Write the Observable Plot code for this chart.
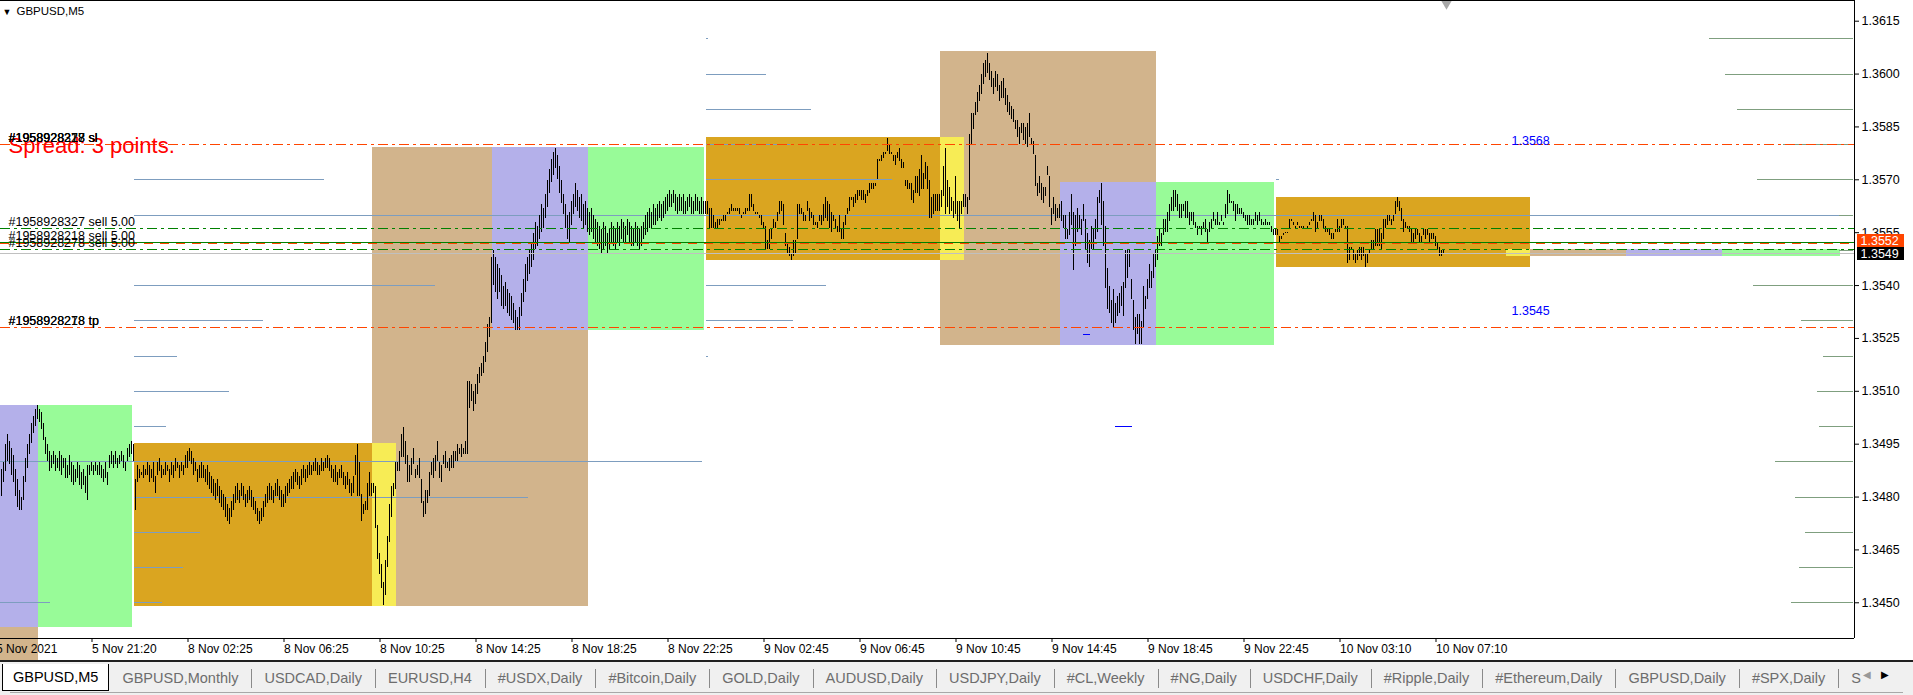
<!DOCTYPE html>
<html><head><meta charset="utf-8">
<script src="https://cdn.jsdelivr.net/npm/d3@7"></script>
<script src="https://cdn.jsdelivr.net/npm/@observablehq/plot@0.6"></script>
<style>
html,body{margin:0;padding:0;background:#fff;}
body{width:1913px;height:695px;overflow:hidden;position:relative;font-family:"Liberation Sans",Arial,sans-serif;}
#chart{position:absolute;left:0;top:0;}
#chart svg{display:block;}
#tabs{position:absolute;left:0;top:660px;width:1913px;height:35px;background:#f0f0f0;border-top:2px solid #202020;box-sizing:border-box;}
#tabrow{position:absolute;left:2px;top:2px;height:27px;display:flex;align-items:stretch;font-size:14.5px;color:#6d6d6d;}
.tab{padding:0 13px;white-space:nowrap;display:flex;align-items:center;position:relative;}
.tab.sep::before{content:"";position:absolute;left:0;top:5px;bottom:3px;border-left:1px solid #8a8a8a;}
.tab.active{background:#fff;color:#000;border:1px solid #000;border-top:none;padding:0 10px;}
#tabline{position:absolute;left:10px;right:10px;bottom:2px;border-top:1px solid #a8a8a8;}
#arrows{position:absolute;right:14px;top:7px;font-size:10px;color:#000;letter-spacing:10px;}
</style></head>
<body>
<div id="chart"></div>
<div id="tabs"><div id="tabrow"></div><div id="arrows"><span style="color:#999">&#9664;</span>&#9654;</div><div id="tabline"></div></div>
<script>
// ---------- data ----------
const priceBase = 1.34, pip = 0.0001;
const barHigh = [
88,90,95,98,96,94,92,88,85,82,80,86,91,95,98,101,103,105,106,105,
104,101,97,95,93,92,93,92,91,93,92,91,91,89,92,90,89,88,90,89,
87,88,86,89,89,90,89,90,89,90,89,88,90,87,92,93,92,93,91,92,
93,92,90,94,95,96,95,85,89,88,87,89,88,90,89,88,90,86,90,91,
89,88,90,89,88,90,89,91,90,89,90,89,92,93,94,93,91,90,88,89,
90,89,88,89,87,86,85,84,85,83,82,81,80,78,77,79,81,83,84,82,
84,83,81,82,83,82,80,79,77,76,77,79,81,83,84,83,82,84,85,83,
82,81,83,84,85,86,87,88,87,86,88,89,88,89,90,89,90,91,90,89,
91,90,91,92,91,89,88,89,87,88,89,87,86,87,85,84,86,92,95,90,
81,78,79,84,87,84,84,83,72,64,61,56,62,69,78,83,84,90,90,93,
98,100,96,92,89,91,94,88,89,91,85,79,82,82,87,90,91,92,96,90,
89,92,93,90,91,92,93,93,95,94,95,94,96,113,113,112,110,112,115,117,
118,120,124,129,131,148,150,148,146,145,143,140,141,139,138,137,135,133,131,134,
138,142,146,148,150,152,155,158,157,160,163,162,166,170,173,176,178,179,177,174,
170,166,163,160,161,164,166,169,167,165,166,163,164,162,161,162,160,159,158,157,
156,158,157,155,156,158,157,156,158,157,159,158,157,159,158,157,156,158,157,156,
157,158,160,161,162,161,163,162,163,164,163,164,165,166,167,166,167,166,165,166,
165,166,164,165,166,165,164,166,165,164,165,164,164,164,162,162,160,158,159,159,
159,160,160,161,162,163,162,162,162,162,160,161,162,162,166,166,163,161,161,160,
160,158,157,153,156,156,159,158,161,164,164,163,155,152,151,149,153,153,163,163,
162,161,160,164,162,161,160,158,158,160,160,163,165,164,163,161,160,159,157,160,
156,158,160,162,165,165,165,166,167,167,167,167,166,167,169,169,169,169,176,176,
177,178,178,182,180,178,177,177,178,179,176,175,170,170,169,169,167,171,171,173,
177,172,175,174,170,165,166,166,166,166,167,174,179,170,168,165,164,171,164,164,
164,166,166,165,183,189,189,192,195,197,200,203,204,206,203,201,199,201,200,197,
198,199,196,194,192,191,190,187,187,185,186,186,185,186,189,182,181,177,169,171,
169,168,168,174,171,162,165,163,162,163,164,160,160,156,161,166,161,160,162,160,
159,163,159,155,153,157,156,159,165,167,169,164,157,145,140,136,139,135,137,138,
140,141,150,150,150,142,136,131,132,132,130,140,137,142,146,144,149,150,154,156,
155,159,159,161,163,165,167,167,166,163,163,163,164,164,161,161,161,158,157,157,
157,158,159,156,158,159,161,159,161,158,160,158,163,167,166,164,164,163,163,162,
162,161,160,160,160,159,159,161,160,161,159,158,159,158,158,157,156,156,156,154,
154,155,155,155,159,159,158,157,158,157,157,157,156,157,158,159,161,160,158,160,
160,159,157,156,156,155,155,156,159,157,159,159,157,157,151,151,150,149,150,151,
151,151,149,149,150,153,153,156,156,156,155,159,159,160,160,159,160,164,165,164,
162,159,158,157,157,156,155,156,156,155,154,156,156,156,155,155,155,154,152,151,
150,150];
const barLow = [
80,84,87,90,89,86,84,80,77,76,76,79,84,88,92,95,98,100,102,101,
99,96,92,90,87,88,89,87,88,87,86,88,85,85,86,84,83,84,85,83,
82,83,81,79,86,87,86,87,86,86,85,84,85,83,88,89,88,89,88,89,
90,88,87,90,91,92,90,76,84,85,86,85,86,86,84,85,84,81,86,87,
85,86,86,87,84,86,85,87,88,85,87,86,88,88,90,89,86,87,84,85,
85,85,84,83,82,81,80,79,80,78,77,76,74,73,72,74,76,78,79,78,
80,79,77,78,79,77,76,75,73,72,73,74,77,78,79,79,78,80,80,79,
77,77,78,80,81,82,82,84,83,82,83,85,84,85,86,86,87,87,86,86,
87,87,88,88,87,85,84,84,83,85,85,83,82,83,81,80,81,86,80,80,
73,75,76,76,80,80,81,71,62,58,54,49,52,60,67,74,80,82,87,87,
91,91,89,84,84,86,89,85,86,85,78,74,75,78,80,86,85,87,90,85,
84,89,88,88,87,88,88,90,90,92,91,92,92,92,105,107,104,106,109,112,
114,115,118,121,125,129,140,138,136,138,134,133,134,132,131,130,129,127,127,127,
131,135,138,141,143,145,147,150,151,153,155,156,159,162,166,169,171,173,170,166,
163,160,156,153,152,157,160,162,161,159,158,156,157,155,154,155,153,152,151,150,
149,150,151,149,150,152,151,150,152,151,153,152,152,154,152,151,151,152,151,150,
151,153,154,155,156,156,157,157,158,159,158,159,160,161,162,162,163,161,160,161,
161,160,160,161,162,160,160,161,161,160,160,160,160,160,156,156,156,156,156,157,
158,158,158,160,160,161,161,161,161,160,159,160,160,161,161,162,161,160,160,159,
157,156,150,150,150,153,156,156,158,160,161,157,151,149,148,147,148,149,153,160,
160,158,158,161,158,159,157,157,156,158,157,158,159,158,156,155,158,156,155,155,
153,153,157,160,161,164,162,163,164,165,164,164,163,165,166,167,167,168,170,175,
175,176,177,178,177,177,175,174,176,175,173,173,168,167,167,164,163,166,166,165,
167,167,170,167,159,159,160,161,161,161,162,165,160,162,160,161,159,160,158,156,
160,162,162,160,164,180,184,188,189,192,194,197,199,200,198,196,194,196,195,192,
193,193,191,189,188,187,186,184,182,180,183,181,180,179,182,180,177,168,165,166,
164,163,165,171,162,157,160,158,159,159,158,156,153,153,154,157,144,151,155,156,
154,158,150,146,145,150,150,153,155,163,157,151,139,133,132,129,128,129,131,132,
134,131,139,142,145,136,127,123,126,123,123,128,133,136,139,139,142,145,147,151,
151,154,155,155,158,161,161,162,161,159,159,161,159,159,157,158,157,156,154,156,
154,156,155,152,155,156,158,157,157,157,158,157,159,160,163,163,161,158,160,160,
160,159,158,157,157,157,157,158,157,158,157,157,157,157,157,155,154,154,154,152,
153,154,155,155,156,158,157,156,157,156,156,156,156,156,157,158,158,155,156,158,
158,156,155,155,154,153,153,155,155,155,156,157,156,146,147,150,147,146,147,148,
147,148,145,146,149,150,150,151,151,151,150,153,156,157,158,157,158,160,162,161,
158,155,156,156,155,152,152,153,154,152,152,154,153,154,152,153,153,151,150,148,
148,149];

// session boxes (bar index range, price range)
const sessionNames  = ["London", "Asia", "London open", "London–NY", "New York"];
const boxSession = ["London","London","London","London","Asia","Asia","Asia","London open","London open","London open","London–NY","London–NY","London–NY","London–NY","New York","New York","New York","New York"];
const boxFrom    = [0,   186, 470, 765, 67,  353, 638, 186, 470, 753, 0,   246, 530, 813, 19,  294, 578, 861];
const boxTo      = [18,  293, 577, 812, 185, 469, 764, 197, 481, 764, 18,  293, 577, 860, 65,  351, 636, 919];
const boxHigh    = [1.3443,1.35792,1.36064,1.35502,1.34953,1.3582,1.3565,1.34953,1.3582,1.35502,1.3506,1.35792,1.35692,1.35502,1.3506,1.35792,1.35692,1.35502];
const boxLow     = [1.3420,1.3449,1.3523,1.35482,1.3449,1.35471,1.35451,1.3449,1.35471,1.35482,1.3443,1.35273,1.3523,1.35482,1.3443,1.35273,1.3523,1.35482];

// short horizontal level segments (steel blue)
const segPrice = [1.3570,1.3560,1.3540,1.3530,1.3520,1.3510,1.3500,1.3490,1.3480,1.3470,1.3460,1.3450,1.3450,
                  1.3610,1.3600,1.3590,1.3580,1.3570,1.3540,1.3530,1.3520,1.3570];
const segFrom  = [66.5,66.5,66.5,66.5,66.5,66.5,66.5,-0.5,66.5,66.5,66.5,-0.5,66.5,
                  352.5,352.5,352.5,352.5,352.5,352.5,352.5,352.5,637.5];
const segTo    = [161.5,919.5,217,131,88,114,82.5,350.5,263.5,99.5,91,24.5,80.5,
                  353.5,382.5,405,394.5,445.5,412.5,396,353.5,639];
// blue marks
const markPrice = [1.3526, 1.3500];
const markFrom  = [541, 557];
const markTo    = [544.5, 565.5];

// right-side level profile (length in bars, measured back from the price axis)
const profilePrice = [1.3610,1.3600,1.3590,1.3580,1.3570,1.3560,1.3550,1.3540,1.3530,1.3520,1.3510,1.3500,1.3490,1.3480,1.3470,1.3460,1.3450,1.3440];
const profileLen   = [72,64,58,35,48,7,7,50,26,15,18,17,39,29,24,27,31,28];

// orders
const orderIds   = ["#1958928327","#1958928218","#1958928278"];
const orderOpen  = [1.35561, 1.35521, 1.35502];
const slPrice = 1.3580, tpPrice = 1.3528;
const slIds = ["#1958928218","#1958928278","#1958928327"];
const tpIds = ["#1958928218","#1958928278"];
const bidPrice = 1.3549, askPrice = 1.3552;
const spreadText = "Spread: 3 points.";
const blueLabelText  = ["1.3568","1.3545"];
const blueLabelPrice = [1.3581, 1.35329];
const blueLabelBar   = [755, 755];

// axes
const yTickValues = [1.3450,1.3465,1.3480,1.3495,1.3510,1.3525,1.3540,1.3555,1.3570,1.3585,1.3600,1.3615];
const timeTickBar = [-2,46,94,142,190,238,286,334,382,430,478,526,574,622,670,718];
const timeTickLabel = ["5 Nov 2021","5 Nov 21:20","8 Nov 02:25","8 Nov 06:25","8 Nov 10:25","8 Nov 14:25","8 Nov 18:25","8 Nov 22:25","9 Nov 02:45","9 Nov 06:45","9 Nov 10:45","9 Nov 14:45","9 Nov 18:45","9 Nov 22:45","10 Nov 03:10","10 Nov 07:10"];
const tabNames = ["GBPUSD,M5","GBPUSD,Monthly","USDCAD,Daily","EURUSD,H4","#USDX,Daily","#Bitcoin,Daily","GOLD,Daily","AUDUSD,Daily","USDJPY,Daily","#CL,Weekly","#NG,Daily","USDCHF,Daily","#Ripple,Daily","#Ethereum,Daily","GBPUSD,Daily","#SPX,Daily","S"];
const symbolTitle = "GBPUSD,M5";

// ---------- build ----------
const bars = barHigh.map((h, i) => ({i, high: priceBase + h * pip, low: priceBase + barLow[i] * pip}));
const boxes = boxSession.map((s, k) => ({session: s, from: boxFrom[k], to: boxTo[k], high: boxHigh[k], low: boxLow[k]}));
const segs = segPrice.map((p, k) => ({p, from: segFrom[k], to: segTo[k]}));
const marksBlue = markPrice.map((p, k) => ({p, from: markFrom[k], to: markTo[k]}));
const xMin = -0.5, xMax = 926.5;
const profile = profilePrice.map((p, k) => ({p, from: xMax - 0.5 - profileLen[k], to: xMax - 0.5}));
const tickLabelOf = new Map(timeTickBar.map((b, k) => [b, timeTickLabel[k]]));
const yTop = 1.362087, yBottom = 1.343987;
const lastBar = bars.length - 1;
const tagH = 0.000175;

const red = "#ff4500", green = "#008000", steel = "#7d9dbf", profileColor = "#7f9f7f";
const dashDot = "10,4,3,4";

const chart = Plot.plot({
  width: 1913, height: 660,
  marginLeft: 0, marginRight: 59, marginTop: 0, marginBottom: 22,
  x: {domain: [xMin, xMax], label: null},
  y: {domain: [yBottom, yTop], label: null},
  color: {domain: sessionNames, range: ["#d2b48c", "#daa520", "#f7ec55", "#b4b0ea", "#98fb98"]},
  style: {fontFamily: "Liberation Sans, Arial, sans-serif", fontSize: "12px", background: "#fff", color: "#000"},
  marks: [
    Plot.rect(boxes, {x1: d => d.from - 0.5, x2: d => d.to + 0.5, y1: "low", y2: "high", fill: "session", shapeRendering: "crispEdges"}),
    Plot.ruleY(segs, {y: "p", x1: "from", x2: "to", stroke: steel, strokeWidth: 1, shapeRendering: "crispEdges"}),
    Plot.ruleY(profile, {y: "p", x1: "from", x2: "to", stroke: profileColor, strokeWidth: 1, shapeRendering: "crispEdges"}),
    Plot.ruleY(marksBlue, {y: "p", x1: "from", x2: "to", stroke: "#0000ff", strokeWidth: 1, shapeRendering: "crispEdges"}),
    Plot.ruleX(bars, {x: "i", y1: "low", y2: "high", stroke: "#000", strokeWidth: 1, insetTop: -0.5, insetBottom: -0.5, shapeRendering: "crispEdges"}),
    Plot.ruleY([bidPrice], {stroke: "#c0c0c0", strokeWidth: 1, shapeRendering: "crispEdges"}),
    Plot.ruleY([orderOpen[0], orderOpen[2]], {stroke: green, strokeDasharray: dashDot, shapeRendering: "crispEdges"}),
    Plot.ruleY([orderOpen[1]], {stroke: green, shapeRendering: "crispEdges"}),
    Plot.ruleY([askPrice], {stroke: red, strokeDasharray: "9,7", shapeRendering: "crispEdges"}),
    Plot.ruleY([slPrice, tpPrice], {stroke: red, strokeDasharray: dashDot, shapeRendering: "crispEdges"}),
    // texts
    Plot.text([spreadText], {frameAnchor: "left", y: () => slPrice, dx: 8, dy: 1, fill: "#ff0000", fontSize: 22, textAnchor: "start"}),
    Plot.text(slIds, {frameAnchor: "left", y: () => slPrice, dx: 8, dy: -7, text: d => d + " sl", fontSize: 12.5, textAnchor: "start", fill: "#000"}),
    Plot.text(tpIds, {frameAnchor: "left", y: () => tpPrice, dx: 8, dy: -7, text: d => d + " tp", fontSize: 12.5, textAnchor: "start", fill: "#000"}),
    Plot.text(orderIds, {frameAnchor: "left", y: (d, k) => orderOpen[k], dx: 8, dy: -7, text: d => d + " sell 5.00", fontSize: 12.5, textAnchor: "start", fill: "#000"}),
    Plot.text(blueLabelText, {x: (d, k) => blueLabelBar[k], y: (d, k) => blueLabelPrice[k], text: d => d, fill: "#0000ff", fontSize: 12.5, textAnchor: "start"}),
    Plot.text([symbolTitle], {frameAnchor: "top-left", dx: 16, dy: 6, fontSize: 11.5, textAnchor: "start", lineAnchor: "top", fill: "#000"}),
    Plot.text(["▼"], {frameAnchor: "top-left", dx: 2, dy: 8, fontSize: 9, textAnchor: "start", lineAnchor: "top", fill: "#000"}),
    Plot.dot([lastBar], {x: d => d + 1.5, frameAnchor: "top", dy: 3, symbol: "triangle", r: 4, rotate: 180, fill: "#a8a8a8", stroke: null}),
    // borders and axes
    Plot.ruleY([yTop], {stroke: "#000"}),
    Plot.ruleY([yBottom], {stroke: "#000"}),
    Plot.ruleX([xMax], {stroke: "#000"}),
    Plot.axisY(yTickValues, {anchor: "right", tickSize: 4, tickPadding: 3, tickFormat: d => d.toFixed(4), fontSize: 12.5, label: null, textAnchor: "start"}),
    Plot.axisX(timeTickBar, {anchor: "bottom", tickSize: 4, tickPadding: 2, tickFormat: d => tickLabelOf.get(d), textAnchor: "start", dx: -1.5, fontSize: 12, label: null}),
    // price tags
    Plot.rect([bidPrice], {x1: xMax + 1.5, x2: xMax + 25, y1: d => d - tagH, y2: d => d + tagH, fill: "#000", shapeRendering: "crispEdges"}),
    Plot.rect([bidPrice], {x1: xMax + 1.5, x2: xMax + 25, y1: d => d + tagH, y2: d => d + 3 * tagH + 0.00001, fill: red, shapeRendering: "crispEdges"}),
    Plot.text([bidPrice], {x: xMax + 3, y: d => d, text: d => d.toFixed(4), fill: "#fff", fontSize: 12.5, textAnchor: "start"}),
    Plot.text([askPrice], {x: xMax + 3, y: d => bidPrice + 2 * tagH, text: d => d.toFixed(4), fill: "#fff", fontSize: 12.5, textAnchor: "start"})
  ]
});
document.getElementById("chart").appendChild(chart);

const row = document.getElementById("tabrow");
tabNames.forEach((t, k) => {
  const el = document.createElement("div");
  el.className = "tab" + (k === 0 ? " active" : "") + (k > 1 ? " sep" : "");
  el.textContent = t;
  row.appendChild(el);
});
</script>
</body></html>
